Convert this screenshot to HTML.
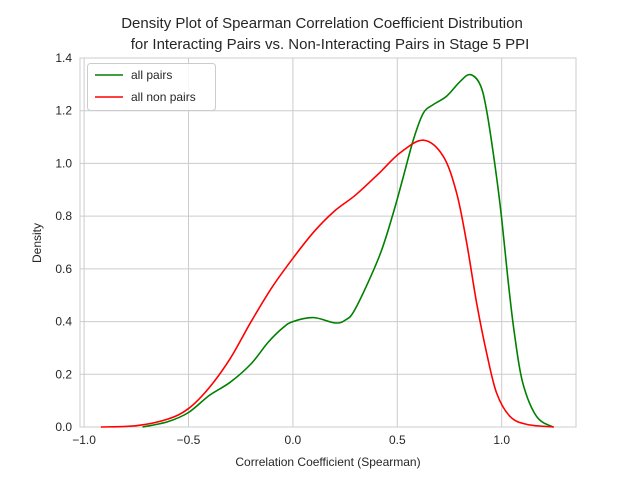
<!DOCTYPE html>
<html><head><meta charset="utf-8"><style>
body{margin:0;background:#fff;font-family:"Liberation Sans",sans-serif;}
svg text{font-family:"Liberation Sans",sans-serif;fill:#262626;}
</style></head><body>
<svg id="chart" width="640" height="480">
<rect x="0" y="0" width="640" height="480" fill="#fff"/>
</svg>
<script>
const xTicks=[-1.0,-0.5,0.0,0.5,1.0];
const xTickLabels=["\u22121.0","\u22120.5","0.0","0.5","1.0"];
const yTicks=[0,0.2,0.4,0.6,0.8,1.0,1.2,1.4];
const yTickLabels=["0.0","0.2","0.4","0.6","0.8","1.0","1.2","1.4"];
const pairsX=[-0.72,-0.6,-0.5,-0.4,-0.3,-0.2,-0.12,-0.05,0.0,0.1,0.2,0.25,0.3,0.413,0.48,0.529,0.577,0.624,0.672,0.736,0.80,0.848,0.896,0.928,0.97,1.0,1.03,1.06,1.1,1.167,1.246];
const pairsY=[0.0,0.02,0.055,0.12,0.17,0.24,0.32,0.375,0.40,0.415,0.395,0.405,0.45,0.646,0.81,0.95,1.09,1.19,1.223,1.255,1.31,1.337,1.30,1.2,0.98,0.79,0.56,0.36,0.17,0.04,0.0];
const nonX=[-0.92,-0.75,-0.6,-0.5,-0.4,-0.3,-0.2,-0.1,0.0,0.1,0.2,0.3,0.413,0.513,0.625,0.72,0.784,0.832,0.88,0.928,0.976,1.04,1.12,1.25];
const nonY=[0.0,0.005,0.03,0.07,0.15,0.26,0.40,0.53,0.64,0.74,0.82,0.88,0.963,1.04,1.088,1.027,0.888,0.70,0.47,0.28,0.128,0.04,0.01,0.0];
const L=80,R=576,T=58,B=427;
const xs=v=>292.9+v*208.8;
const ys=v=>B-v*(B-T)/1.4;
const svg=document.getElementById('chart');
const NS='http://www.w3.org/2000/svg';
function mk(tag,attrs,parent){const e=document.createElementNS(NS,tag);for(const k in attrs)e.setAttribute(k,attrs[k]);(parent||svg).appendChild(e);return e;}
xTicks.forEach((t,i)=>{
 const g=mk('line',{x1:xs(t),x2:xs(t),y1:T,y2:B,stroke:'#cccccc','stroke-width':1});
 
 
 const tx=mk('text',{x:xs(t),y:B+17,'text-anchor':'middle','font-size':12});
 tx.textContent=xTickLabels[i];
 
 
});
yTicks.forEach((t,i)=>{
 const g=mk('line',{x1:L,x2:R,y1:ys(t),y2:ys(t),stroke:'#cccccc','stroke-width':1});
 
 
 const tx=mk('text',{x:L-8,y:ys(t)+4,'text-anchor':'end','font-size':12});
 tx.textContent=yTickLabels[i];
 
 
});
const frame=mk('rect',{x:L,y:T,width:R-L,height:B-T,fill:'none',stroke:'#cccccc','stroke-width':1});


function pathFor(X,Y){
 const p=X.map((x,i)=>[xs(x),ys(Y[i])]);
 let d='M'+p[0][0]+','+p[0][1];
 for(let i=0;i<p.length-1;i++){
  const p0=p[Math.max(0,i-1)],p1=p[i],p2=p[i+1],p3=p[Math.min(p.length-1,i+2)];
  const c1=[p1[0]+(p2[0]-p0[0])/6,p1[1]+(p2[1]-p0[1])/6];
  const c2=[p2[0]-(p3[0]-p1[0])/6,p2[1]-(p3[1]-p1[1])/6];
  d+=' C'+c1+' '+c2+' '+p2;
 }
 return d;
}
const gp=mk('path',{d:pathFor(pairsX,pairsY),fill:'none',stroke:'#008000','stroke-width':1.6});


const rp=mk('path',{d:pathFor(nonX,nonY),fill:'none',stroke:'#ff0000','stroke-width':1.6});


</script>
<svg width="640" height="480" style="position:absolute;left:0;top:0">
<text x="322" y="28" text-anchor="middle" font-size="15">Density Plot of Spearman Correlation Coefficient Distribution</text>
<text x="330" y="49" text-anchor="middle" font-size="15">for Interacting Pairs vs. Non-Interacting Pairs in Stage 5 PPI</text>
<text x="328" y="466" text-anchor="middle" font-size="12">Correlation Coefficient (Spearman)</text>
<text transform="translate(41,243) rotate(-90)" text-anchor="middle" font-size="12">Density</text>
<g>
<rect x="87.5" y="63.5" width="128" height="47" rx="3" fill="#fff" fill-opacity="0.85" stroke="#cccccc"/>
<line x1="95" x2="123" y1="75" y2="75" stroke="#008000" stroke-width="1.6"/>
<text x="131" y="79" font-size="12">all pairs</text>
<line x1="95" x2="123" y1="97" y2="97" stroke="#ff0000" stroke-width="1.6"/>
<text x="131" y="101" font-size="12">all non pairs</text>
</g>
</svg>
</body></html>
